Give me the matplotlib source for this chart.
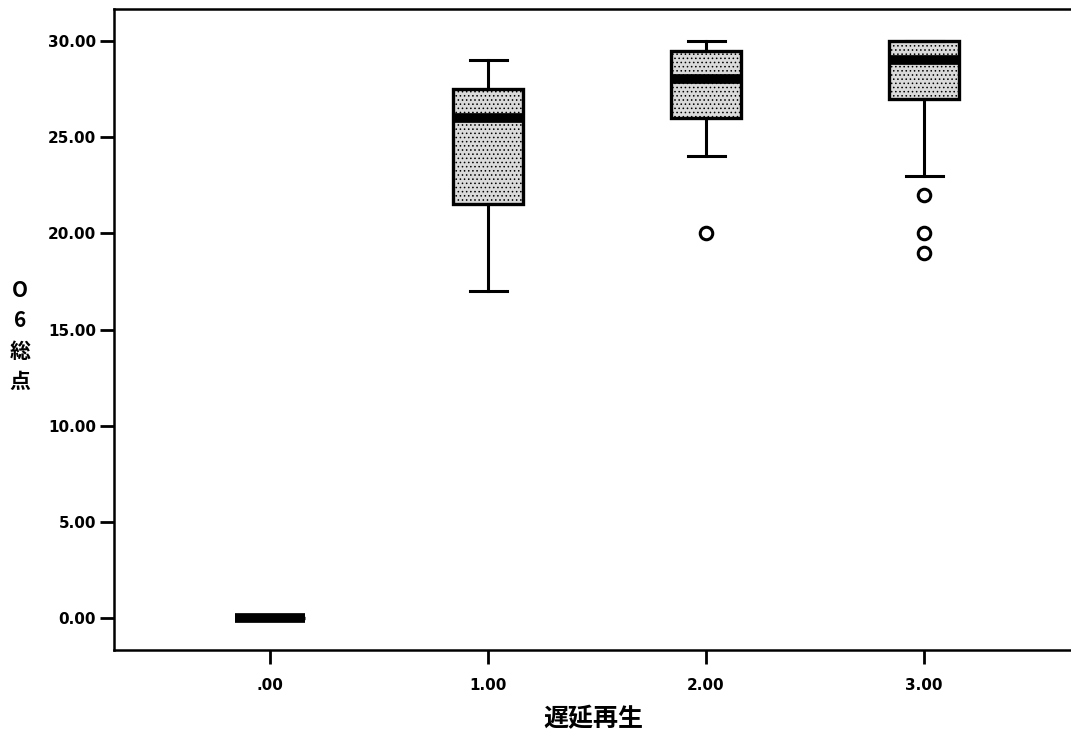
import matplotlib.pyplot as plt

plt.rcParams['font.family'] = ['DejaVu Sans', 'Noto Sans CJK JP']
plt.rcParams['hatch.linewidth'] = 0.6

# ----- data -----
groups = [0.0, 1.0, 2.0, 3.0]
tick_labels = [".00", "1.00", "2.00", "3.00"]
whis_lo = [0, 17, 24, 23]
q1 = [0, 21.5, 26, 27]
median = [0, 26, 28, 29]
q3 = [0, 27.5, 29.5, 30]
whis_hi = [0, 29, 30, 30]
outliers = [[], [], [20], [22, 20, 19]]

y_ticks = [0, 5, 10, 15, 20, 25, 30]

stats = []
for i in range(len(groups)):
    stats.append({
        "whislo": whis_lo[i], "q1": q1[i], "med": median[i],
        "q3": q3[i], "whishi": whis_hi[i], "fliers": outliers[i],
    })

fig = plt.figure(figsize=(10.71, 7.32), dpi=100)
ax = fig.add_axes([0.1064, 0.112, 0.8936, 0.8757])

bp = ax.bxp(stats, positions=groups, widths=0.32, capwidths=0.17,
            patch_artist=True, showfliers=True,
            boxprops=dict(facecolor="#dadada", edgecolor="black", linewidth=2.4, hatch="...."),
            medianprops=dict(color="black", linewidth=7, solid_capstyle="butt"),
            whiskerprops=dict(color="black", linewidth=2.2),
            capprops=dict(color="black", linewidth=2.2),
            flierprops=dict(marker="o", markerfacecolor="none", markeredgecolor="black",
                            markersize=9, markeredgewidth=2.2))

ax.set_xlim(-0.716, 3.674)
ax.set_ylim(-1.66, 31.66)
ax.set_xticks(groups)
ax.set_xticklabels(tick_labels)
ax.set_yticks(y_ticks)
ax.set_yticklabels(["%.2f" % v for v in y_ticks])

for s in ["left", "bottom", "top"]:
    ax.spines[s].set_linewidth(1.8)
ax.spines["right"].set_visible(False)

ax.tick_params(axis="both", direction="out", length=10, width=2, labelsize=11, pad=3)
for lab in ax.get_xticklabels() + ax.get_yticklabels():
    lab.set_fontweight("bold")
ax.tick_params(axis="x", pad=10)

fig.text(593 / 1071, 1 - 719 / 732, "遅延再生", ha="center", va="center",
         fontsize=18, fontweight="bold", family=["Noto Sans CJK JP", "DejaVu Sans"])
fig.text(20 / 1071, 1 - 336 / 732, "O\n6\n総\n点", ha="center", va="center",
         fontsize=15, fontweight="bold", linespacing=1.55,
         family=["Noto Sans CJK JP", "DejaVu Sans"])

fig.savefig("out.png", dpi=100)
